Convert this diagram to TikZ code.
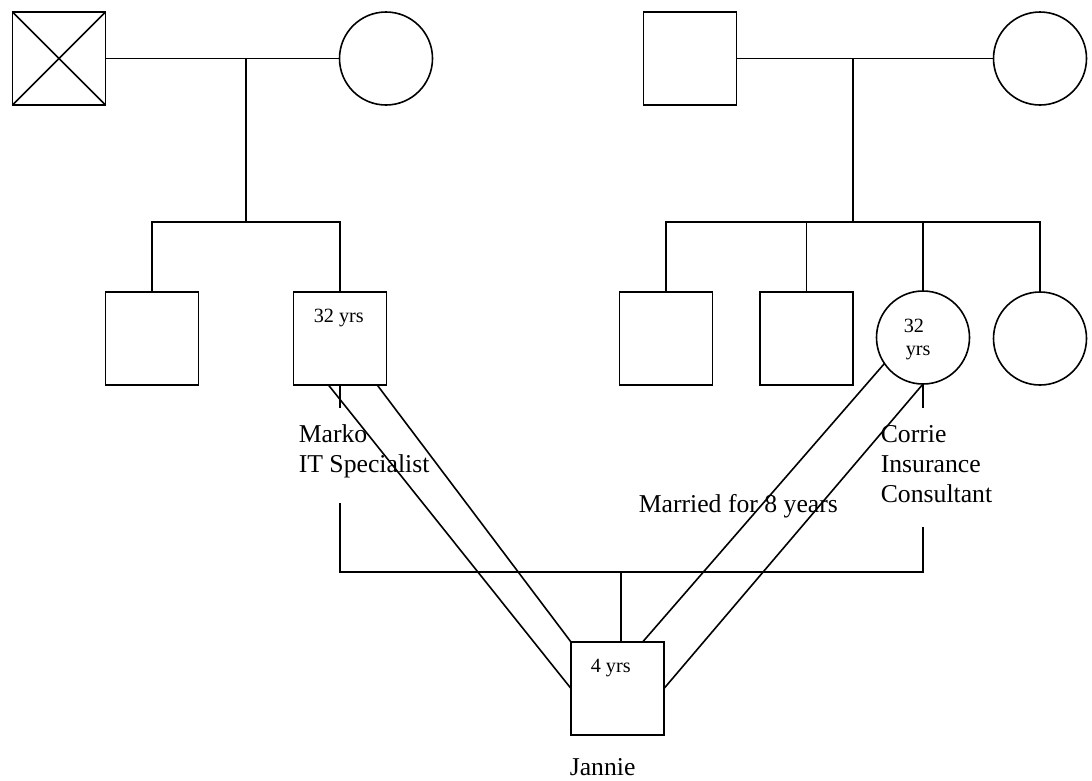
\documentclass[tikz,border=0pt]{standalone}
\usepackage{fontspec}
\setmainfont{Liberation Serif}
\usetikzlibrary{calc}
\begin{document}
\begin{tikzpicture}[x=1pt,y=-1pt,line width=1.6pt,
  sq/.style={draw,minimum size=93pt,inner sep=0pt,outer sep=0pt},
  ci/.style={draw,circle,minimum size=93pt,inner sep=0pt,outer sep=0pt},
  big/.style={font=\fontsize{25.7}{30}\selectfont,inner sep=0pt,anchor=base west},
  small/.style={font=\fontsize{20.2}{23}\selectfont,inner sep=0pt,anchor=base west}]
\useasboundingbox (0,0) rectangle (1092,780);
% generation 1
\node[sq] (gf) at (59,58.5) {};
\draw (gf.north west) -- (gf.south east) (gf.north east) -- (gf.south west);
\node[ci] (gm) at (386,58.5) {};
\node[sq] (mgf) at (690,58.5) {};
\node[ci] (mgm) at (1040,58.5) {};
% generation 2
\node[sq] (s1) at (152,338.5) {};
\node[sq] (marko) at (340,338.5) {};
\node[sq] (s3) at (666,338.5) {};
\node[sq] (s4) at (806.5,338.5) {};
\node[ci] (corrie) at (923,337.5) {};
\node[ci] (s6) at (1040,338.5) {};
% generation 3
\node[sq] (jannie) at (617.5,688.5) {};
% junctions
\coordinate (j1) at (246,58.5);
\coordinate (j1d) at (246,222);
\coordinate (l1) at (152,222);
\coordinate (l2) at (340,222);
\coordinate (j2) at (853,58.5);
\coordinate (j2d) at (853,222);
\coordinate (r1) at (666,222);
\coordinate (r4) at (1040,222);
\coordinate (mk1) at (340,408);
\coordinate (mk2) at (340,503);
\coordinate (mb) at (340,572);
\coordinate (ck1) at (923,408);
\coordinate (ck2) at (923,527);
\coordinate (cb) at (923,572);
\coordinate (jt) at (621,572);
% connectors
\draw (gf.east) -- (gm.west);
\draw (j1) -- (j1d);
\draw (s1.north) -- (l1) -- (l2) -- (marko.north);
\draw (mgf.east) -- (mgm.west);
\draw (j2) -- (j2d);
\draw (s3.north) -- (r1) -- (r4) -- (s6.north);
\draw (s4.north) -- (s4.north |- r1);
\draw (corrie.north) -- (corrie.north |- r1);
\draw (marko.south) -- (mk1);
\draw (corrie.south) -- (ck1);
\draw (mk2) -- (mb) -- (cb) -- (ck2);
\draw (jt) -- (jt |- jannie.north);
\draw ($(marko.south west)!0.376!(marko.south east)$) -- (jannie.west);
\draw ($(marko.south west)!0.9!(marko.south east)$) -- (jannie.north west);
\draw (corrie.214) -- ($(jannie.north west)!0.77!(jannie.north east)$);
\draw (corrie.south) -- (jannie.east);
% texts
\node[small] (ma) at (313,322) {32 yrs};
\node[small] (ja) at (590,672) {4 yrs};
\node[small] (ca1) at (903,332) {32};
\node[small] (ca2) at (905,355) {yrs};
\node[big] (mn) at (298,442) {Marko};
\node[big] (mj) at (298,472) {IT Specialist};
\node[big] (cn) at (880,442) {Corrie};
\node[big] (cj1) at (880,472) {Insurance};
\node[big] (cj2) at (880,502) {Consultant};
\node[big] (mar) at (638,512) {Married for 8 years};
\node[big] (jn) at (569,775) {Jannie};
\end{tikzpicture}
\end{document}
